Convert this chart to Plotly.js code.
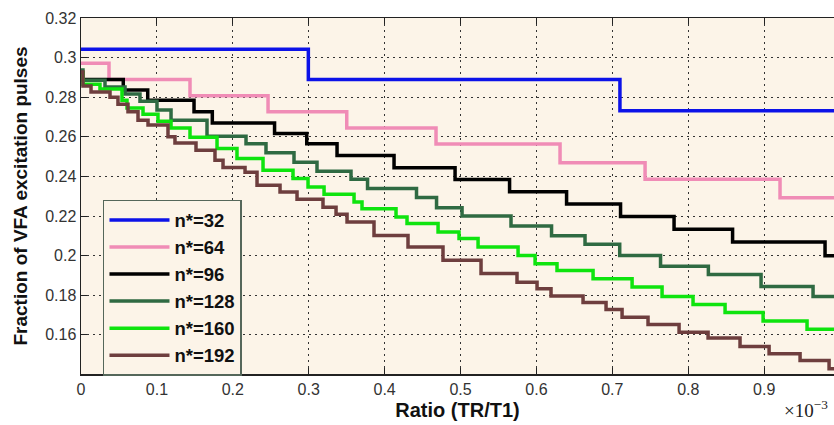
<!DOCTYPE html>
<html>
<head>
<meta charset="utf-8">
<script src="https://cdn.plot.ly/plotly-3.0.1.min.js"></script>
<style>html,body{margin:0;padding:0;background:#fff;}#chart{width:834px;height:425px;}</style>
</head>
<body>
<div id="chart"></div>
<script>
// Step curves: x = start of each level (last = end of axis), y = level value
const n32_x = [0, 0.2995, 0.710, 0.992];
const n32_y = [0.3042, 0.2890, 0.2731, 0.2731];

const n64_x = [0, 0.0369, 0.1436, 0.2464, 0.3501, 0.4677, 0.6311, 0.7431, 0.9209, 0.992];
const n64_y = [0.2971, 0.2890, 0.2807, 0.2726, 0.2645, 0.2563, 0.2469, 0.2386, 0.2292, 0.2292];

const n96_x = [0, 0.0557, 0.0879, 0.1489, 0.1730, 0.2550, 0.2974, 0.3373, 0.4124, 0.4928, 0.5646, 0.6397, 0.7108, 0.7813, 0.8584, 0.9802, 0.992];
const n96_y = [0.2890, 0.2836, 0.2785, 0.2726, 0.2670, 0.2617, 0.2565, 0.2505, 0.2444, 0.2384, 0.2322, 0.2260, 0.2198, 0.2133, 0.2069, 0.1999, 0.1999];

const n128_x = [0, 0.0026, 0.0316, 0.0580, 0.0777, 0.1001, 0.1186, 0.1660, 0.2174, 0.2437, 0.2806, 0.3109, 0.3557, 0.3775, 0.4420, 0.4684, 0.5020, 0.5665, 0.6199, 0.6640, 0.7097, 0.7635, 0.8265, 0.8959, 0.9644, 0.992];
const n128_y = [0.2937, 0.2886, 0.2851, 0.2816, 0.2780, 0.2735, 0.2684, 0.2603, 0.2565, 0.2520, 0.2472, 0.2426, 0.2386, 0.2339, 0.2293, 0.2242, 0.2200, 0.2149, 0.2100, 0.2057, 0.2001, 0.1946, 0.1904, 0.1844, 0.1794, 0.1794];

const n160_x = [0, 0.0026, 0.0250, 0.0540, 0.0606, 0.0817, 0.1014, 0.1186, 0.1436, 0.1792, 0.2055, 0.2398, 0.2793, 0.2991, 0.3202, 0.3597, 0.3702, 0.4150, 0.4295, 0.4704, 0.4980, 0.5231, 0.5758, 0.5982, 0.6271, 0.6746, 0.7260, 0.7655, 0.8063, 0.8485, 0.8986, 0.9565, 0.992];
const n160_y = [0.2922, 0.2866, 0.2841, 0.2785, 0.2745, 0.2714, 0.2679, 0.2644, 0.2598, 0.2541, 0.2490, 0.2431, 0.2389, 0.2347, 0.2310, 0.2271, 0.2237, 0.2195, 0.2162, 0.2119, 0.2086, 0.2043, 0.2001, 0.1959, 0.1925, 0.1883, 0.1841, 0.1794, 0.1753, 0.1713, 0.1670, 0.1628, 0.1628];

const n192_x = [0, 0.0026, 0.0132, 0.0382, 0.0487, 0.0619, 0.0751, 0.0883, 0.1146, 0.1238, 0.1515, 0.1765, 0.1871, 0.2161, 0.2319, 0.2622, 0.2846, 0.3188, 0.3360, 0.3505, 0.3860, 0.4308, 0.4769, 0.5270, 0.5744, 0.6008, 0.6192, 0.6614, 0.6917, 0.7128, 0.7470, 0.7879, 0.8261, 0.8682, 0.9065, 0.9473, 0.9855, 0.992];
const n192_y = [0.2927, 0.2856, 0.2826, 0.2800, 0.2765, 0.2726, 0.2684, 0.2659, 0.2600, 0.2569, 0.2532, 0.2482, 0.2445, 0.2421, 0.2355, 0.2321, 0.2284, 0.2244, 0.2209, 0.2170, 0.2102, 0.2043, 0.1976, 0.1909, 0.1866, 0.1833, 0.1796, 0.1763, 0.1728, 0.1688, 0.1652, 0.1613, 0.1584, 0.1541, 0.1504, 0.1470, 0.1428, 0.1428];

const seriesNames = ['n*=32', 'n*=64', 'n*=96', 'n*=128', 'n*=160', 'n*=192'];
const xTickVals = [0, 0.1, 0.2, 0.3, 0.4, 0.5, 0.6, 0.7, 0.8, 0.9];
const xTickText = ['0', '0.1', '0.2', '0.3', '0.4', '0.5', '0.6', '0.7', '0.8', '0.9'];
const yTickVals = [0.16, 0.18, 0.2, 0.22, 0.24, 0.26, 0.28, 0.3, 0.32];
const yTickText = ['0.16', '0.18', '0.2', '0.22', '0.24', '0.26', '0.28', '0.3', '0.32'];

const xs = [n32_x, n64_x, n96_x, n128_x, n160_x, n192_x];
const ys = [n32_y, n64_y, n96_y, n128_y, n160_y, n192_y];
const colors = ['#0c12e8', '#f08cb6', '#000000', '#2f6a42', '#0ee40e', '#6e3e3e'];

const traces = seriesNames.map((name, i) => ({
  type: 'scatter', mode: 'lines', name: name,
  x: xs[i], y: ys[i],
  line: {shape: 'hv', color: colors[i], width: 3.5}
}));

const axisFont = {family: 'Liberation Sans, Arial, sans-serif', size: 16, color: '#333'};
const layout = {
  width: 834, height: 425,
  margin: {l: 81, r: 0, t: 18, b: 51},
  paper_bgcolor: '#ffffff',
  plot_bgcolor: '#fcf4e8',
  showlegend: true,
  legend: {
    x: 0.0292, y: 0.489, xanchor: 'left', yanchor: 'top',
    bgcolor: '#fcf4e8', bordercolor: '#55675a', borderwidth: 1.5,
    font: {family: 'Liberation Sans, Arial, sans-serif', size: 18.5, weight: 'bold', color: '#111'},
    itemwidth: 60, tracegroupgap: 0
  },
  xaxis: {
    range: [0, 0.992], tickvals: xTickVals, ticktext: xTickText,
    ticks: 'inside', ticklen: 6, tickcolor: '#222', tickwidth: 1,
    showline: true, linecolor: '#222', linewidth: 1.5, mirror: 'ticks',
    showgrid: true, gridcolor: '#333', gridwidth: 1, griddash: '2px,4px',
    zeroline: false, tickfont: axisFont,
    title: {text: 'Ratio (TR/T1)', font: {family: 'Liberation Sans, Arial, sans-serif', size: 20, weight: 'bold', color: '#111'}, standoff: 6}
  },
  yaxis: {
    range: [0.1402, 0.32], tickvals: yTickVals, ticktext: yTickText,
    ticks: 'inside', ticklen: 6, tickcolor: '#222', tickwidth: 1,
    showline: true, linecolor: '#222', linewidth: 1.5, mirror: false,
    showgrid: true, gridcolor: '#333', gridwidth: 1, griddash: '2px,4px',
    zeroline: false, tickfont: axisFont,
    title: {text: 'Fraction of VFA excitation pulses', font: {family: 'Liberation Sans, Arial, sans-serif', size: 19, weight: 'bold', color: '#111'}, standoff: 12}
  },
  annotations: [{
    xref: 'paper', yref: 'paper', x: 0.931, y: -0.098, xanchor: 'left', yanchor: 'middle',
    text: '×10<sup>−3</sup>', showarrow: false,
    font: {family: 'Liberation Serif, serif', size: 19, color: '#222'}
  }]
};

Plotly.newPlot('chart', traces, layout, {staticPlot: true, displayModeBar: false});
</script>
</body>
</html>
